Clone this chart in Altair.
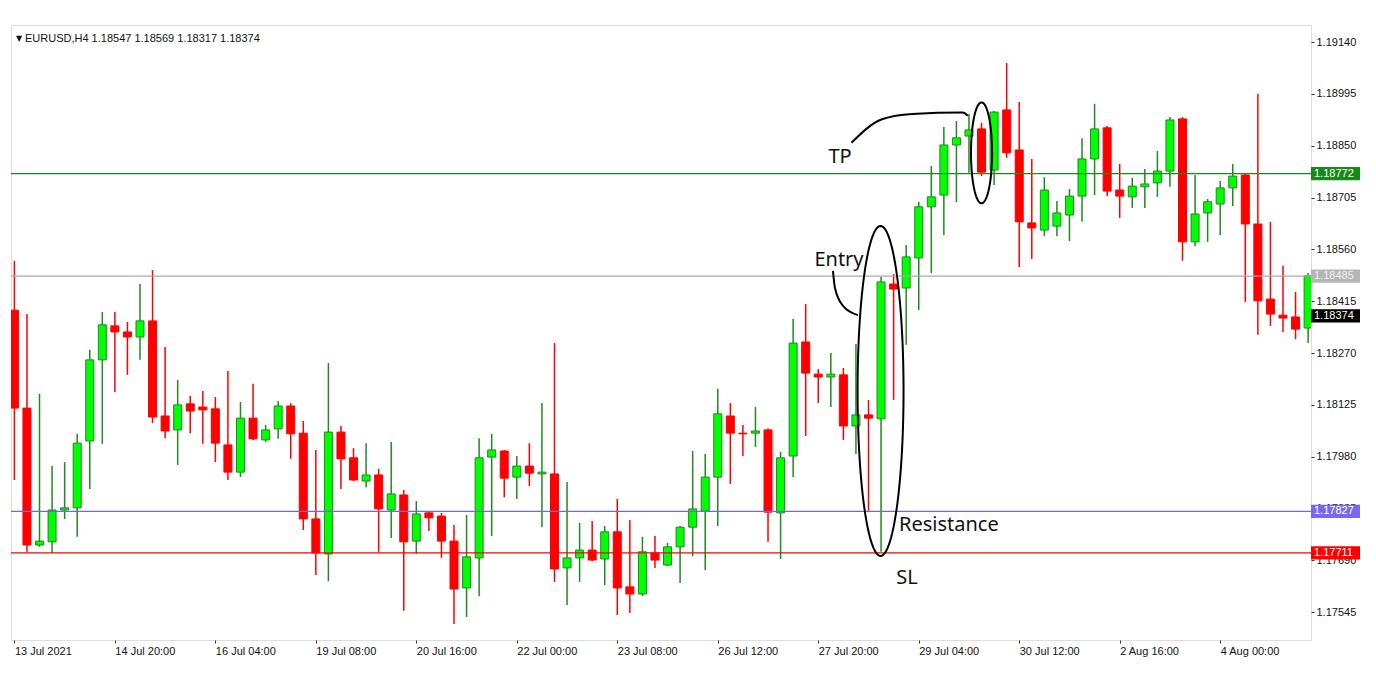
import altair as alt
import pandas as pd
import numpy as np

# ---------------- data (EURUSD H4) ----------------
opens = [1.18390, 1.18116, 1.17733, 1.17742, 1.17831, 1.17837, 1.18024, 1.18251, 1.18346, 1.18329,
         1.18315, 1.18360, 1.18094, 1.18055, 1.18128, 1.18119, 1.18114, 1.18013, 1.17937, 1.18088,
         1.18027, 1.18058, 1.18122, 1.18046, 1.17806, 1.17708, 1.18049, 1.17977, 1.17912, 1.17929,
         1.17831, 1.17873, 1.17744, 1.17823, 1.17814, 1.17744, 1.17613, 1.17697, 1.17979, 1.17996,
         1.17923, 1.17954, 1.17932, 1.17932, 1.17669, 1.17697, 1.17719, 1.17694, 1.17770, 1.17616,
         1.17596, 1.17711, 1.17677, 1.17728, 1.17783, 1.17828, 1.17923, 1.18094, 1.18046, 1.18046,
         1.18055, 1.17823, 1.17982, 1.18301, 1.18211, 1.18203, 1.18209, 1.18066, 1.18097, 1.18086,
         1.18463, 1.18452, 1.18536, 1.18679, 1.18712, 1.18852, 1.18877, 1.18897, 1.18782, 1.18950,
         1.18838, 1.18634, 1.18614, 1.18625, 1.18656, 1.18709, 1.18813, 1.18900, 1.18726, 1.18707,
         1.18735, 1.18746, 1.18779, 1.18925, 1.18581, 1.18662, 1.18687, 1.18732, 1.18768, 1.18631,
         1.18421, 1.18376, 1.18371, 1.18340]
highs = [1.18528, 1.18379, 1.18156, 1.17954, 1.17965, 1.18044, 1.18279, 1.18385, 1.18385, 1.18357,
         1.18463, 1.18502, 1.18287, 1.18195, 1.18150, 1.18164, 1.18147, 1.18220, 1.18133, 1.18184,
         1.18069, 1.18136, 1.18130, 1.18080, 1.17999, 1.18242, 1.18066, 1.18004, 1.18018, 1.17946,
         1.18021, 1.17887, 1.17856, 1.17825, 1.17823, 1.17789, 1.17817, 1.18032, 1.18044, 1.17999,
         1.17982, 1.18018, 1.18130, 1.18298, 1.17909, 1.17795, 1.17800, 1.17786, 1.17862, 1.17803,
         1.17756, 1.17758, 1.17739, 1.17786, 1.17996, 1.17988, 1.18170, 1.18130, 1.18069, 1.18119,
         1.18060, 1.17993, 1.18365, 1.18407, 1.18225, 1.18270, 1.18228, 1.18295, 1.18139, 1.18483,
         1.18491, 1.18572, 1.18693, 1.18793, 1.18902, 1.18919, 1.18939, 1.18914, 1.18947, 1.19081,
         1.18972, 1.18813, 1.18762, 1.18695, 1.18729, 1.18871, 1.18967, 1.18905, 1.18799, 1.18760,
         1.18785, 1.18835, 1.18930, 1.18930, 1.18768, 1.18701, 1.18751, 1.18799, 1.18774, 1.18995,
         1.18637, 1.18514, 1.18441, 1.18494]
lows = [1.17915, 1.17714, 1.17728, 1.17711, 1.17806, 1.17756, 1.17890, 1.18016, 1.18161, 1.18209,
        1.18251, 1.18074, 1.18032, 1.17957, 1.18046, 1.18016, 1.17965, 1.17915, 1.17923, 1.18027,
        1.18021, 1.18030, 1.17974, 1.17775, 1.17649, 1.17632, 1.17890, 1.17912, 1.17895, 1.17714,
        1.17753, 1.17549, 1.17708, 1.17772, 1.17697, 1.17512, 1.17532, 1.17590, 1.17758, 1.17867,
        1.17862, 1.17898, 1.17783, 1.17630, 1.17565, 1.17630, 1.17688, 1.17621, 1.17537, 1.17543,
        1.17590, 1.17669, 1.17674, 1.17627, 1.17702, 1.17663, 1.17786, 1.17904, 1.17982, 1.18007,
        1.17742, 1.17694, 1.17923, 1.18038, 1.18130, 1.18119, 1.18027, 1.17988, 1.17825, 1.17714,
        1.18139, 1.18293, 1.18390, 1.18494, 1.18600, 1.18692, 1.18774, 1.18765, 1.18740, 1.18816,
        1.18511, 1.18533, 1.18597, 1.18597, 1.18583, 1.18637, 1.18712, 1.18709, 1.18648, 1.18676,
        1.18676, 1.18707, 1.18735, 1.18528, 1.18569, 1.18581, 1.18600, 1.18681, 1.18413, 1.18321,
        1.18346, 1.18329, 1.18309, 1.18298]
closes = [1.18116, 1.17733, 1.17744, 1.17831, 1.17837, 1.18018, 1.18251, 1.18349, 1.18329, 1.18315,
          1.18360, 1.18091, 1.18052, 1.18125, 1.18108, 1.18111, 1.18018, 1.17937, 1.18088, 1.18030,
          1.18055, 1.18122, 1.18044, 1.17806, 1.17711, 1.18049, 1.17974, 1.17915, 1.17929, 1.17834,
          1.17876, 1.17742, 1.17820, 1.17809, 1.17744, 1.17610, 1.17700, 1.17977, 1.17999, 1.17920,
          1.17954, 1.17934, 1.17937, 1.17666, 1.17697, 1.17719, 1.17691, 1.17770, 1.17613, 1.17596,
          1.17714, 1.17691, 1.17728, 1.17783, 1.17834, 1.17923, 1.18100, 1.18046, 1.18044, 1.18052,
          1.17825, 1.17977, 1.18298, 1.18214, 1.18203, 1.18211, 1.18066, 1.18097, 1.18088, 1.18469,
          1.18449, 1.18539, 1.18679, 1.18707, 1.18852, 1.18872, 1.18894, 1.18776, 1.18944, 1.18830,
          1.18637, 1.18620, 1.18726, 1.18662, 1.18709, 1.18813, 1.18897, 1.18723, 1.18709, 1.18737,
          1.18743, 1.18779, 1.18922, 1.18581, 1.18659, 1.18693, 1.18732, 1.18765, 1.18631, 1.18416,
          1.18379, 1.18368, 1.18337, 1.18486]

time_labels = ["13 Jul 2021", "14 Jul 20:00", "16 Jul 04:00", "19 Jul 08:00", "20 Jul 16:00",
               "22 Jul 00:00", "23 Jul 08:00", "26 Jul 12:00", "27 Jul 20:00", "29 Jul 04:00",
               "30 Jul 12:00", "2 Aug 16:00", "4 Aug 00:00"]
time_label_bars = [0, 8, 16, 24, 32, 40, 48, 56, 64, 72, 80, 88, 96]
price_ticks = [1.19140, 1.18995, 1.18850, 1.18705, 1.18560, 1.18415, 1.18270,
               1.18125, 1.17980, 1.17835, 1.17690, 1.17545]

level_prices = [1.18772, 1.18485, 1.17827, 1.17711]
level_colors = ["#168f16", "#a9a9a9", "#7468d8", "#ff0000"]
marker_prices = [1.18772, 1.18485, 1.18374, 1.17827, 1.17711]
marker_fills = ["#168a16", "#b5b5b5", "#000000", "#7b68ee", "#ff0000"]
marker_texts = ["#ffffff", "#f2f2f2", "#ffffff", "#ffffff", "#ffffff"]

header = "EURUSD,H4  1.18547 1.18569 1.18317 1.18374"

# annotations (bar index, price)
notes = pd.DataFrame({
    "label": ["TP", "Entry", "SL"],
    "bar": [65.73, 65.65, 71.07],
    "price": [1.18818, 1.18530, 1.17641],
})
note_res = pd.DataFrame({"label": ["Resistance"], "bar": [70.43], "price": [1.17789]})
tp_curve = pd.DataFrame({"bar": [66.64, 69.07, 71.48, 75.50, 75.91],
                         "price": [1.18858, 1.18924, 1.18939, 1.18943, 1.18934]})
entry_curve = pd.DataFrame({"bar": [65.17, 65.33, 65.97, 67.16],
                            "price": [1.18500, 1.18452, 1.18402, 1.18376]})
ellipses = [  # centre bar, centre price, half-width (bars), half-height (price)
    (68.96, 1.18164, 1.83, 0.004615),
    (77.00, 1.18830, 0.84, 0.00141),
]

# ---------------- build ----------------
W, H = 1300, 615
xs = alt.Scale(domain=[-0.27, 103.23], nice=False, zero=False, padding=0)
ys = alt.Scale(domain=[1.174674, 1.191876], nice=False, zero=False, padding=0)

label_arr = "[" + ",".join("'%s'" % s for s in time_labels) + "]"
xaxis = alt.Axis(values=time_label_bars, labelExpr=label_arr + "[round(datum.value/8)]",
                 title=None, grid=False, domain=False, labelAlign="left", labelPadding=2,
                 tickSize=3, tickColor="#333333", labelFont="Liberation Sans", labelFontSize=11,
                 labelColor="#111111", labelFlush=False, labelOverlap=False)
yaxis = alt.Axis(values=price_ticks, format=".5f", orient="right", title=None, grid=False,
                 domain=False, tickSize=3, tickColor="#333333", labelPadding=2,
                 labelFont="Liberation Sans", labelFontSize=11, labelColor="#111111",
                 labelFlush=False, labelOverlap=False)


def X(f):
    return alt.X(f, scale=xs, axis=xaxis)


def Y(f):
    return alt.Y(f, scale=ys, axis=yaxis)


df = pd.DataFrame({"bar": np.arange(len(opens)), "open": opens, "high": highs,
                   "low": lows, "close": closes})
df["dir"] = np.where(df["close"] >= df["open"], "up", "down")

wicks = alt.Chart(df).mark_rule(strokeWidth=1.5, clip=True).encode(
    x=X("bar:Q"), y=Y("low:Q"), y2="high:Q",
    color=alt.Color("dir:N", scale=alt.Scale(domain=["up", "down"], range=["#1f8a1f", "#ff0000"]),
                    legend=None))
bodies = alt.Chart(df).mark_bar(size=8, strokeWidth=1, clip=True).encode(
    x=X("bar:Q"), y=Y("open:Q"), y2="close:Q",
    fill=alt.Fill("dir:N", scale=alt.Scale(domain=["up", "down"], range=["#00ff00", "#ff0000"]),
                  legend=None),
    stroke=alt.Stroke("dir:N", scale=alt.Scale(domain=["up", "down"], range=["#1f8a1f", "#ff0000"]),
                      legend=None))

layers = [wicks, bodies]
for p, c in zip(level_prices, level_colors):
    layers.append(alt.Chart(pd.DataFrame({"price": [p]})).mark_rule(strokeWidth=1.2, color=c)
                  .encode(y=Y("price:Q")))

# annotation shapes
for (cx, cy, a, b) in ellipses:
    t = np.linspace(0, 2 * np.pi, 121)
    e = pd.DataFrame({"bar": cx + a * np.cos(t), "price": cy + b * np.sin(t), "k": np.arange(len(t))})
    layers.append(alt.Chart(e).mark_line(color="#000000", strokeWidth=2)
                  .encode(x=X("bar:Q"), y=Y("price:Q"), order="k:Q"))
for cur in (tp_curve, entry_curve):
    layers.append(alt.Chart(cur).mark_line(color="#000000", strokeWidth=2, interpolate="monotone")
                  .encode(x=X("bar:Q"), y=Y("price:Q")))

layers.append(alt.Chart(notes).mark_text(font="Noto Sans", fontSize=20, align="center",
                                         baseline="middle", color="#111111")
              .encode(x=X("bar:Q"), y=Y("price:Q"), text="label:N"))
layers.append(alt.Chart(note_res).mark_text(font="Noto Sans", fontSize=20, align="left",
                                            baseline="middle", color="#111111")
              .encode(x=X("bar:Q"), y=Y("price:Q"), text="label:N"))

# price markers on the right axis
box_path = "M -1 -0.27 L 1 -0.27 L 1 0.27 L -1 0.27 Z"
for p, f, tc in zip(marker_prices, marker_fills, marker_texts):
    d = pd.DataFrame({"price": [p], "txt": ["%.5f" % p]})
    layers.append(alt.Chart(d).mark_point(shape=box_path, size=2401, filled=True, opacity=1,
                                          strokeWidth=0, fill=f)
                  .encode(x=alt.value(W + 24.5), y=Y("price:Q")))
    layers.append(alt.Chart(d).mark_text(align="left", baseline="middle", font="Liberation Sans",
                                         fontSize=11, color=tc)
                  .encode(x=alt.value(W + 3), y=Y("price:Q"), text="txt:N"))

# header
layers.append(alt.Chart(pd.DataFrame({"t": ["\u25BC"]})).mark_text(
    align="left", baseline="middle", font="DejaVu Sans", fontSize=8, color="#111111")
    .encode(x=alt.value(5), y=alt.value(14), text="t:N"))
layers.append(alt.Chart(pd.DataFrame({"t": [header]})).mark_text(
    align="left", baseline="middle", font="Liberation Sans", fontSize=11, color="#111111")
    .encode(x=alt.value(14), y=alt.value(14), text="t:N"))

chart = alt.layer(*layers).properties(
    width=W, height=H,
    padding={"left": 2, "top": 17, "right": 5, "bottom": 5},
).configure_view(stroke="#6e6e6e", strokeWidth=1).configure(background="#ffffff")

chart.save("out.html", embed_options={"renderer": "svg", "actions": False})
